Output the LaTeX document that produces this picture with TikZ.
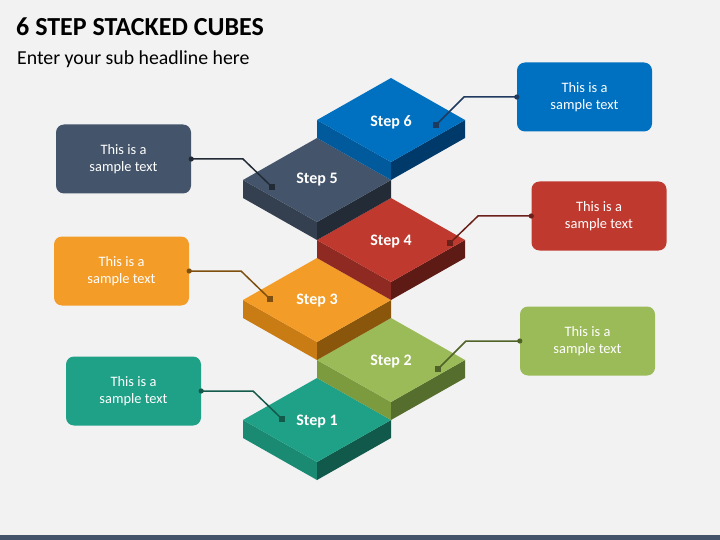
\documentclass[tikz,border=0pt]{standalone}
\usepackage{fontspec}
\setmainfont{Carlito}
\definecolor{bg}{HTML}{F2F2F2}
\definecolor{bar}{HTML}{44546A}
\definecolor{tA}{HTML}{1FA187}\definecolor{lA}{HTML}{1A8A72}\definecolor{rA}{HTML}{11594A}\definecolor{cA}{HTML}{145A4B}
\definecolor{tB}{HTML}{9BBB59}\definecolor{lB}{HTML}{7C9A3E}\definecolor{rB}{HTML}{566E2D}\definecolor{cB}{HTML}{4F6228}
\definecolor{tC}{HTML}{F39C28}\definecolor{lC}{HTML}{C97C14}\definecolor{rC}{HTML}{8A560C}\definecolor{cC}{HTML}{7F4F10}
\definecolor{tD}{HTML}{C0392F}\definecolor{lD}{HTML}{8E2A22}\definecolor{rD}{HTML}{5E1B16}\definecolor{cD}{HTML}{6B201A}
\definecolor{tE}{HTML}{44546A}\definecolor{lE}{HTML}{343F4F}\definecolor{rE}{HTML}{232B36}\definecolor{cE}{HTML}{222A35}
\definecolor{tF}{HTML}{0070C0}\definecolor{lF}{HTML}{005A9C}\definecolor{rF}{HTML}{003A6B}\definecolor{cF}{HTML}{1F3A5F}
\newcommand\stcube[5]{%
  \fill[#4] (#1-74,#2) -- (#1,#2+42) -- (#1,#2+60) -- (#1-74,#2+18) -- cycle;
  \fill[#5] (#1,#2+42) -- (#1+74,#2) -- (#1+74,#2+18) -- (#1,#2+60) -- cycle;
  \fill[#3] (#1-74,#2) -- (#1,#2-42) -- (#1+74,#2) -- (#1,#2+42) -- cycle;
}
\tikzset{
  boxst/.style={rounded corners=8pt, minimum width=135pt, minimum height=69pt, text=white,
    align=center, font=\fontsize{14.4}{17}\selectfont, inner sep=0pt},
  steplab/.style={text=white, anchor=base, inner sep=0pt, font=\bfseries\fontsize{16}{19}\selectfont},
  conn/.style={line width=1.5pt},
}
\newcommand\stconn[4]{% box, knee, end, colour
  \draw[conn,draw=#4] (#1) -- (#2) -- (#3);
  \fill[#4] (#1) circle (2.6);
  \fill[#4] ($(#3)+(-2.6,-2.6)$) rectangle ($(#3)+(2.6,2.6)$);
}
\usetikzlibrary{calc}
\begin{document}
\begin{tikzpicture}[x=1pt,y=-1pt]
\fill[bg] (0,0) rectangle (720,540);
\useasboundingbox (0,0) rectangle (720,540);
\fill[bar] (0,535) rectangle (720,540);
\node[anchor=base west, inner sep=0pt] (title) at (16,36) {\bfseries\fontsize{26}{30}\selectfont 6 STEP STACKED CUBES};
\node[anchor=base west, inner sep=0pt] (sub) at (17,65) {\fontsize{19.8}{23}\selectfont Enter your sub headline here};
% cubes
\stcube{317}{420}{tA}{lA}{rA}
\stcube{391}{360}{tB}{lB}{rB}
\stcube{317}{300}{tC}{lC}{rC}
\stcube{391}{240}{tD}{lD}{rD}
\stcube{317}{180}{tE}{lE}{rE}
\stcube{391}{120}{tF}{lF}{rF}
% boxes
\node[boxst, fill=tA] (b1) at (133.5,391) {This is a\\sample text};
\node[boxst, fill=tB] (b2) at (587.5,341) {This is a\\sample text};
\node[boxst, fill=tC] (b3) at (121.5,271) {This is a\\sample text};
\node[boxst, fill=tD] (b4) at (599,216) {This is a\\sample text};
\node[boxst, fill=tE] (b5) at (123.5,159) {This is a\\sample text};
\node[boxst, fill=tF] (b6) at (584.5,97) {This is a\\sample text};
% connector points
\coordinate (k1) at (253,391); \coordinate (e1) at (282,419);
\coordinate (k2) at (466,341); \coordinate (e2) at (438,369);
\coordinate (k3) at (241,271); \coordinate (e3) at (270,299);
\coordinate (k4) at (478,216); \coordinate (e4) at (450,243);
\coordinate (k5) at (243,159); \coordinate (e5) at (272,187);
\coordinate (k6) at (464,97);  \coordinate (e6) at (436,125);
\stconn{b1.east}{k1}{e1}{cA}
\stconn{b2.west}{k2}{e2}{cB}
\stconn{b3.east}{k3}{e3}{cC}
\stconn{b4.west}{k4}{e4}{cD}
\stconn{b5.east}{k5}{e5}{cE}
\stconn{b6.west}{k6}{e6}{cF}
% step labels
\node[steplab] (s1) at (317,425) {Step 1};
\node[steplab] (s2) at (391,365) {Step 2};
\node[steplab] (s3) at (317,304.5) {Step 3};
\node[steplab] (s4) at (391,245.5) {Step 4};
\node[steplab] (s5) at (317,184) {Step 5};
\node[steplab] (s6) at (391,126.5) {Step 6};
\end{tikzpicture}
\end{document}
